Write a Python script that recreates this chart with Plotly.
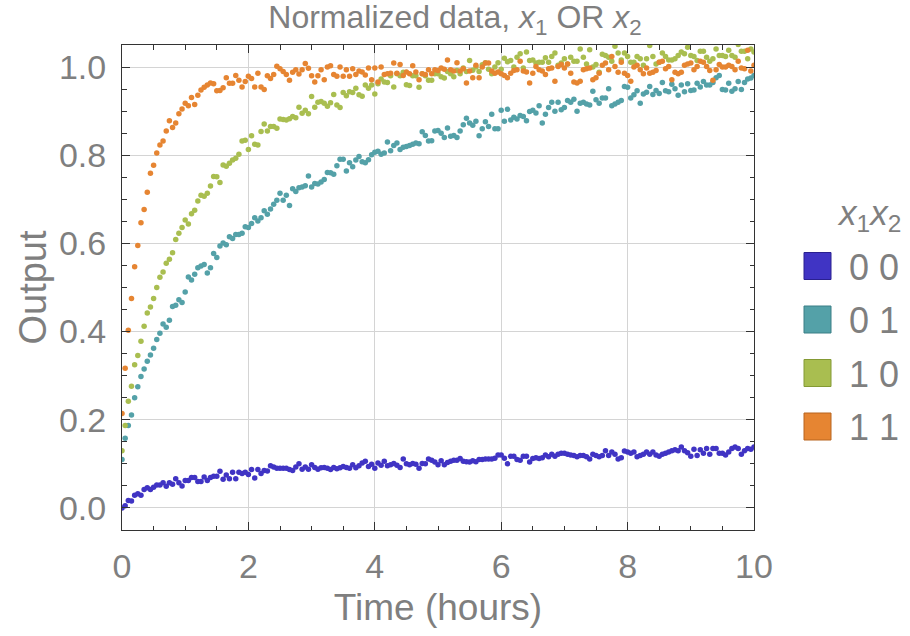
import plotly.graph_objects as go

# time grid: readings every 0.05 hours from 0 to 10
t_start, t_step = 0.0, 0.05

labels = ["0 0", "0 1", "1 0", "1 1"]
colors = ["#4034c4", "#54a1a8", "#a9be50", "#e68532"]
edge_colors = ["#2a2090", "#3a7f86", "#849a34", "#b8641e"]

y00 = [
    0.000, 0.005, 0.017, 0.016, 0.029, 0.032, 0.029, 0.042, 0.046, 0.042,
    0.047, 0.052, 0.052, 0.057, 0.049, 0.057, 0.054, 0.066, 0.057, 0.050,
    0.062, 0.062, 0.069, 0.069, 0.060, 0.060, 0.070, 0.062, 0.069, 0.072,
    0.072, 0.083, 0.065, 0.075, 0.066, 0.081, 0.066, 0.081, 0.078, 0.081,
    0.076, 0.087, 0.068, 0.087, 0.078, 0.085, 0.084, 0.096, 0.093, 0.090,
    0.090, 0.090, 0.090, 0.087, 0.085, 0.093, 0.100, 0.088, 0.093, 0.088,
    0.098, 0.092, 0.088, 0.091, 0.092, 0.090, 0.087, 0.092, 0.089, 0.091,
    0.094, 0.092, 0.090, 0.098, 0.091, 0.096, 0.102, 0.106, 0.094, 0.099,
    0.090, 0.102, 0.097, 0.106, 0.096, 0.098, 0.101, 0.097, 0.092, 0.111,
    0.100, 0.098, 0.101, 0.099, 0.090, 0.101, 0.100, 0.111, 0.108, 0.104,
    0.098, 0.107, 0.098, 0.103, 0.106, 0.108, 0.108, 0.112, 0.106, 0.105,
    0.104, 0.107, 0.105, 0.110, 0.110, 0.111, 0.111, 0.111, 0.113, 0.120,
    0.120, 0.113, 0.100, 0.117, 0.117, 0.110, 0.108, 0.117, 0.117, 0.104,
    0.112, 0.114, 0.112, 0.114, 0.120, 0.116, 0.122, 0.117, 0.122, 0.124,
    0.124, 0.122, 0.120, 0.119, 0.116, 0.119, 0.119, 0.116, 0.111, 0.122,
    0.119, 0.116, 0.119, 0.130, 0.119, 0.127, 0.122, 0.111, 0.114, 0.129,
    0.127, 0.124, 0.127, 0.116, 0.119, 0.122, 0.127, 0.122, 0.127, 0.120,
    0.117, 0.122, 0.124, 0.127, 0.130, 0.132, 0.130, 0.138, 0.130, 0.125,
    0.117, 0.133, 0.119, 0.132, 0.124, 0.135, 0.122, 0.135, 0.135, 0.124,
    0.124, 0.120, 0.127, 0.135, 0.138, 0.135, 0.122, 0.130, 0.135, 0.133,
    0.138,
]

y01 = [
    0.110, 0.158, 0.187, 0.211, 0.250, 0.275, 0.298, 0.315, 0.333, 0.347,
    0.362, 0.382, 0.396, 0.417, 0.410, 0.426, 0.457, 0.460, 0.472, 0.466,
    0.490, 0.524, 0.517, 0.530, 0.545, 0.549, 0.552, 0.533, 0.545, 0.577,
    0.568, 0.594, 0.601, 0.597, 0.615, 0.611, 0.620, 0.620, 0.623, 0.638,
    0.636, 0.645, 0.658, 0.651, 0.658, 0.674, 0.666, 0.678, 0.689, 0.698,
    0.714, 0.698, 0.709, 0.686, 0.724, 0.718, 0.726, 0.728, 0.731, 0.753,
    0.728, 0.736, 0.735, 0.739, 0.745, 0.761, 0.760, 0.757, 0.776, 0.791,
    0.791, 0.764, 0.783, 0.774, 0.789, 0.797, 0.785, 0.783, 0.790, 0.801,
    0.807, 0.809, 0.802, 0.805, 0.830, 0.810, 0.822, 0.828, 0.813, 0.818,
    0.820, 0.822, 0.825, 0.828, 0.826, 0.853, 0.845, 0.832, 0.833, 0.855,
    0.856, 0.850, 0.840, 0.862, 0.843, 0.845, 0.840, 0.855, 0.869, 0.884,
    0.873, 0.868, 0.877, 0.844, 0.860, 0.876, 0.865, 0.893, 0.860, 0.860,
    0.902, 0.877, 0.904, 0.880, 0.886, 0.882, 0.890, 0.888, 0.878, 0.899,
    0.902, 0.896, 0.912, 0.873, 0.893, 0.908, 0.920, 0.900, 0.920, 0.903,
    0.908, 0.924, 0.920, 0.927, 0.900, 0.918, 0.920, 0.916, 0.914, 0.945,
    0.926, 0.918, 0.930, 0.930, 0.951, 0.912, 0.916, 0.920, 0.924, 0.956,
    0.954, 0.930, 0.937, 0.946, 0.918, 0.939, 0.943, 0.956, 0.938, 0.947,
    0.940, 0.965, 0.946, 0.944, 0.961, 0.951, 0.936, 0.959, 0.944, 0.962,
    0.947, 0.948, 0.963, 0.955, 0.967, 0.959, 0.959, 0.965, 0.976, 0.981,
    0.949, 0.948, 0.963, 0.945, 0.951, 0.967, 0.949, 0.965, 0.973, 0.975,
    0.981,
]

y10 = [
    0.130, 0.187, 0.242, 0.276, 0.325, 0.346, 0.378, 0.412, 0.442, 0.456,
    0.475, 0.500, 0.523, 0.535, 0.555, 0.564, 0.579, 0.609, 0.623, 0.636,
    0.653, 0.644, 0.667, 0.675, 0.696, 0.709, 0.707, 0.714, 0.730, 0.752,
    0.751, 0.738, 0.778, 0.775, 0.782, 0.789, 0.793, 0.802, 0.832, 0.834,
    0.813, 0.844, 0.825, 0.823, 0.854, 0.871, 0.855, 0.865, 0.865, 0.861,
    0.882, 0.881, 0.880, 0.883, 0.888, 0.885, 0.909, 0.895, 0.902, 0.894,
    0.933, 0.909, 0.920, 0.922, 0.918, 0.911, 0.919, 0.938, 0.914, 0.908,
    0.942, 0.935, 0.944, 0.942, 0.952, 0.937, 0.934, 0.959, 0.952, 0.959,
    0.939, 0.962, 0.973, 0.966, 0.965, 0.980, 0.955, 0.985, 0.980, 0.988,
    0.960, 0.958, 0.980, 0.980, 0.954, 0.985, 0.980, 0.970, 0.970, 0.985,
    0.985, 0.978, 0.975, 0.990, 0.985, 0.978, 0.992, 0.985, 0.998, 0.990,
    1.015, 0.993, 1.000, 0.990, 1.005, 1.010, 0.995, 0.985, 1.000, 1.010,
    0.995, 1.020, 1.012, 1.015, 1.000, 1.022, 1.030, 0.998, 1.034, 1.015,
    1.016, 1.009, 1.011, 1.011, 1.021, 1.011, 1.024, 1.032, 1.004, 1.009,
    1.019, 1.007, 1.022, 1.013, 1.013, 1.041, 1.022, 1.007, 1.039, 1.000,
    1.006, 0.988, 1.029, 1.026, 1.022, 1.013, 1.047, 1.032, 1.016, 1.032,
    1.024, 1.011, 1.011, 1.024, 1.019, 1.004, 1.019, 1.049, 1.024, 1.007,
    1.011, 1.032, 1.024, 1.016, 1.016, 1.019, 1.026, 1.034, 1.030, 1.045,
    1.026, 1.024, 1.015, 1.036, 1.036, 1.022, 1.013, 1.019, 1.041, 1.026,
    1.026, 1.024, 1.038, 1.026, 1.022, 1.051, 1.036, 1.036, 1.019, 1.041,
    1.034,
]

y11 = [
    0.214, 0.317, 0.403, 0.475, 0.547, 0.595, 0.647, 0.677, 0.716, 0.759,
    0.777, 0.805, 0.823, 0.832, 0.855, 0.878, 0.863, 0.873, 0.894, 0.905,
    0.918, 0.912, 0.931, 0.915, 0.936, 0.948, 0.954, 0.959, 0.964, 0.962,
    0.946, 0.947, 0.953, 0.976, 0.963, 0.963, 0.981, 0.970, 0.955, 0.967,
    0.979, 0.974, 0.955, 0.986, 0.955, 0.949, 0.980, 0.974, 0.983, 1.002,
    0.996, 0.990, 0.983, 0.970, 0.988, 0.994, 0.984, 0.994, 1.008, 0.997,
    0.980, 0.966, 0.980, 0.994, 0.971, 1.000, 1.003, 0.983, 0.979, 1.000,
    0.979, 0.994, 0.979, 0.996, 0.983, 0.991, 0.989, 0.982, 0.998, 0.971,
    0.998, 0.966, 1.000, 0.983, 0.985, 0.986, 1.009, 0.986, 1.006, 0.981,
    0.989, 0.985, 1.003, 0.989, 0.971, 0.985, 0.983, 0.994, 0.985, 0.994,
    0.992, 0.998, 0.995, 1.016, 0.994, 0.991, 1.010, 0.991, 0.996, 0.964,
    0.991, 0.976, 1.004, 0.976, 1.000, 1.009, 1.009, 0.991, 0.986, 0.989,
    0.985, 0.981, 0.976, 0.986, 0.992, 0.994, 1.013, 0.991, 0.989, 0.964,
    0.986, 1.001, 0.994, 0.991, 0.983, 0.996, 0.998, 0.968, 1.001, 1.006,
    0.998, 1.007, 0.986, 0.966, 0.964, 0.968, 0.994, 0.996, 0.998, 0.971,
    0.976, 0.986, 1.004, 1.009, 0.994, 1.024, 1.001, 0.988, 1.011, 0.986,
    0.981, 0.968, 1.000, 1.004, 0.994, 0.985, 0.998, 0.986, 0.988, 0.992,
    1.011, 1.013, 0.996, 1.001, 0.971, 0.988, 0.985, 0.988, 1.004, 1.007,
    1.009, 0.994, 1.001, 1.013, 1.011, 1.001, 0.992, 0.970, 0.994, 1.006,
    1.000, 1.000, 1.004, 1.001, 0.994, 1.013, 0.998, 0.996, 1.038, 0.991,
    1.004,
]

series = [y00, y01, y10, y11]
n = len(y00)
t = [round(t_start + i * t_step, 2) for i in range(n)]

GRAY = "#7f7f7f"
FONT = "Liberation Sans, Arial, sans-serif"

fig = go.Figure()
for ys, lab, col in zip(series, labels, colors):
    fig.add_trace(go.Scatter(
        x=t, y=ys, mode="markers", name=lab, showlegend=False,
        marker=dict(size=5.5, color=col, line=dict(width=0)),
    ))

W, H = 910, 636
L, R, T, B = 122, 754, 45, 530

def px_x(p):
    return (p - L) / (R - L)

def px_y(p):
    return (B - p) / (B - T)

shapes = []
annotations = []
# manual legend (drawn as shapes + text)
annotations.append(dict(
    x=px_x(835), y=px_y(215), xref="paper", yref="paper",
    text="<i>x</i><sub>1</sub><i>x</i><sub>2</sub>", showarrow=False,
    xanchor="left", yanchor="middle", font=dict(size=35, color=GRAY, family=FONT),
))
legend_centers = [266, 319.5, 373, 426.5]
for lab, col, ec, cy in zip(labels, colors, edge_colors, legend_centers):
    shapes.append(dict(
        type="rect", xref="paper", yref="paper",
        x0=px_x(804), x1=px_x(831), y0=px_y(cy - 13.5), y1=px_y(cy + 13.5),
        fillcolor=col, line=dict(color=ec, width=1),
    ))
    annotations.append(dict(
        x=px_x(847), y=px_y(cy + 1), xref="paper", yref="paper",
        text=lab, showarrow=False, xanchor="left", yanchor="middle",
        font=dict(size=36, color=GRAY, family=FONT),
    ))

axis_common = dict(
    showline=True, linecolor="#333333", linewidth=1, mirror="allticks",
    ticks="inside", tickcolor="#333333", tickwidth=1,
    showgrid=True, gridcolor="#d4d4d4", gridwidth=1, zeroline=False,
    tickfont=dict(size=34, color=GRAY, family=FONT),
)

fig.update_layout(
    width=W, height=H,
    margin=dict(l=L, r=W - R, t=T, b=H - B, autoexpand=False),
    paper_bgcolor="white", plot_bgcolor="white",
    title=dict(
        text="Normalized data, <i>x</i><sub>1</sub> OR <i>x</i><sub>2</sub>",
        x=0.5, xref="container", xanchor="center", y=1 - 17 / H, yref="container", yanchor="middle",
        font=dict(size=32, color=GRAY, family=FONT),
    ),
    xaxis=dict(
        range=[0, 10], tickmode="linear", tick0=0, dtick=2, ticklen=8,
        ticklabelstandoff=6,
        minor=dict(ticks="inside", dtick=0.5, ticklen=4.5, tickcolor="#333333", showgrid=False),
        title=dict(text="Time (hours)", font=dict(size=37, color=GRAY, family=FONT), standoff=10),
        **axis_common,
    ),
    yaxis=dict(
        range=[-0.05, 1.05], tickmode="linear", tick0=0, dtick=0.2, ticklen=8,
        tickformat=".1f", ticklabelstandoff=8,
        minor=dict(ticks="inside", dtick=0.05, ticklen=4.5, tickcolor="#333333", showgrid=False),
        title=dict(text="Output", font=dict(size=38, color=GRAY, family=FONT), standoff=0),
        **axis_common,
    ),
    shapes=shapes,
    annotations=annotations,
)

fig.write_html(
    "out.html",
    config={"displayModeBar": False},
    post_script="document.body.style.margin='0';",
)
